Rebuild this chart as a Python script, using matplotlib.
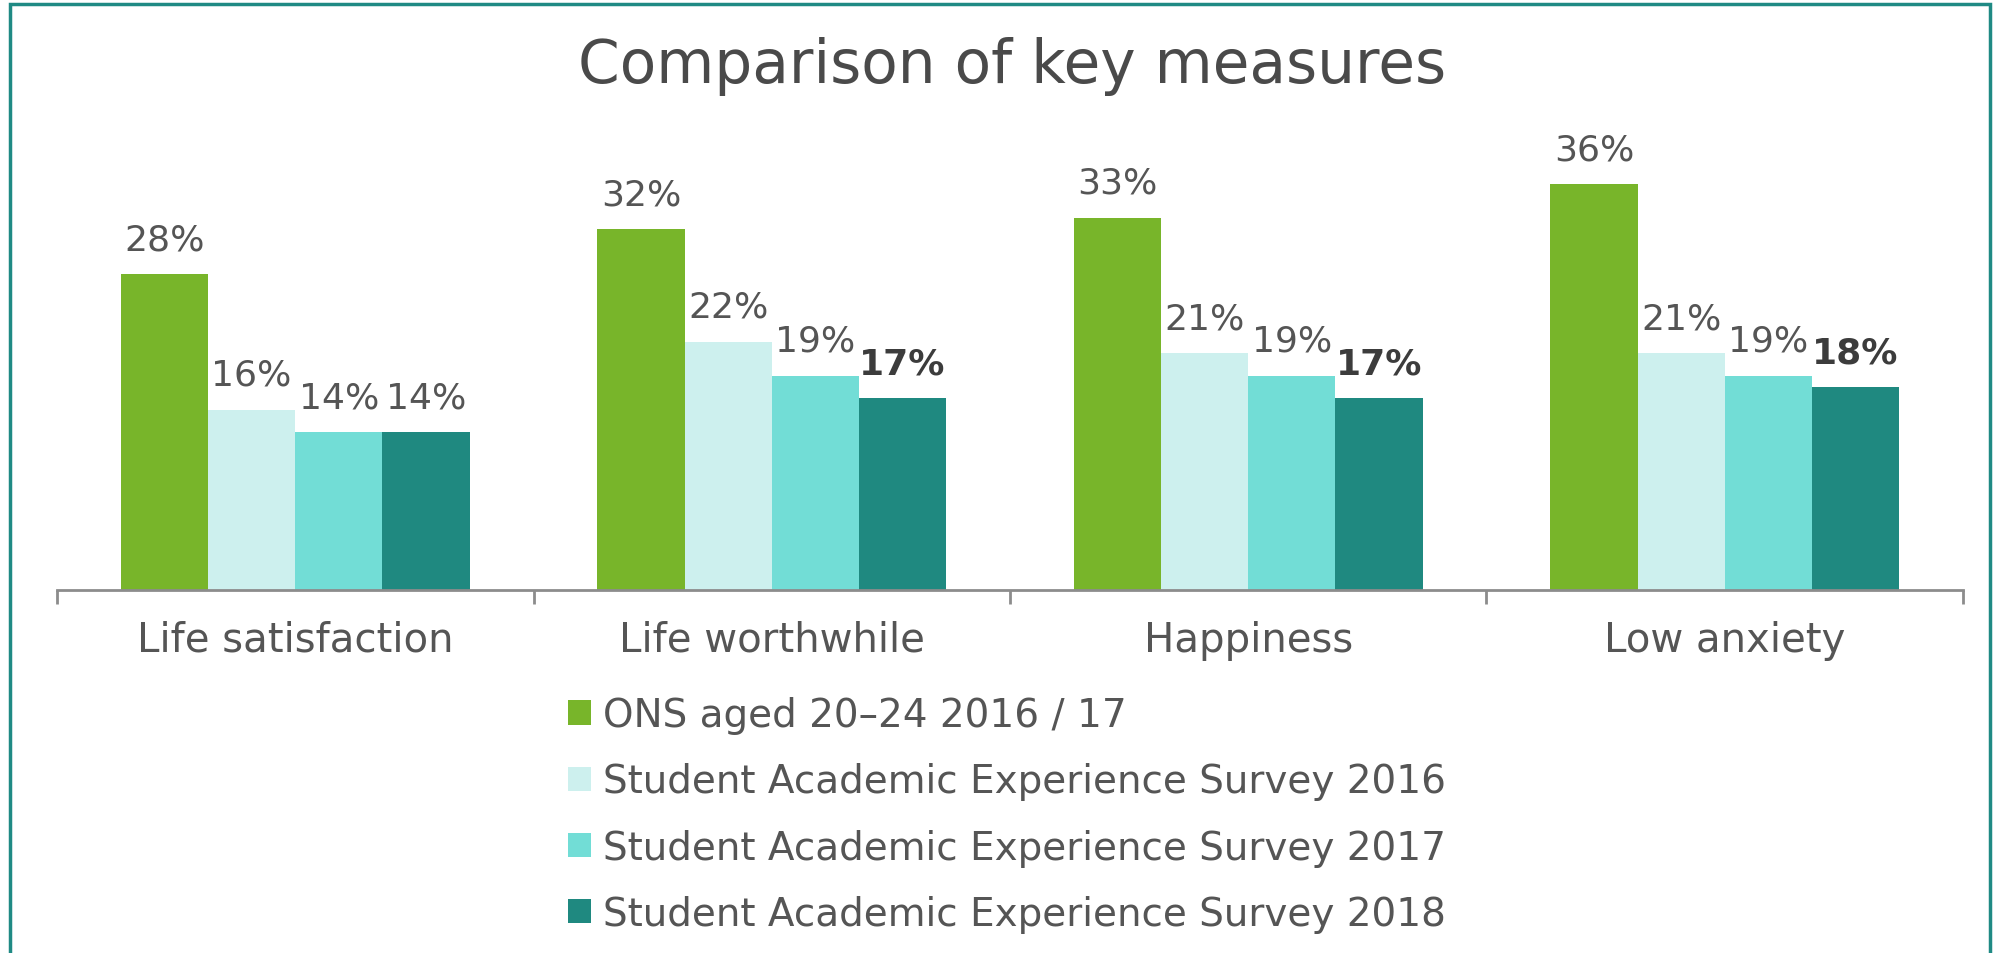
import matplotlib.pyplot as plt
import numpy as np
from matplotlib.patches import Rectangle

# data
categories = ["Life satisfaction", "Life worthwhile", "Happiness", "Low anxiety"]
series_names = ["ONS aged 20\u201324 2016 / 17",
                "Student Academic Experience Survey 2016",
                "Student Academic Experience Survey 2017",
                "Student Academic Experience Survey 2018"]
ons = [28, 32, 33, 36]
saes_2016 = [16, 22, 21, 21]
saes_2017 = [14, 19, 19, 19]
saes_2018 = [14, 17, 17, 18]
bold_2018 = [False, True, True, True]

colors = ["#78b52a", "#cdf0ee", "#72ddd6", "#1f8980"]
text_col = "#555555"

plt.rcParams['font.family'] = ['DejaVu Sans']

fig = plt.figure(figsize=(20, 9.54), dpi=100)
ax = fig.add_axes([0.0285, 0.3805, 0.953, 0.4727])

x = np.arange(len(categories))
w = 0.183
all_series = [ons, saes_2016, saes_2017, saes_2018]
bars = []
for i, vals in enumerate(all_series):
    b = ax.bar(x + (i - 1.5) * w, vals, w, color=colors[i], label=series_names[i])
    bars.append(b)
    for j, rect in enumerate(b):
        bold = (i == 3 and bold_2018[j])
        ax.annotate(f"{vals[j]}%", (rect.get_x() + rect.get_width() / 2, rect.get_height()),
                    xytext=(0, 18), textcoords="offset points", ha="center", va="baseline",
                    fontsize=26, color="#3c3c3c" if bold else text_col,
                    fontweight="bold" if bold else "normal")

ax.set_xlim(-0.5, 3.5)
ax.set_ylim(0, 40)
for s in ["top", "right", "left"]:
    ax.spines[s].set_visible(False)
ax.spines["bottom"].set_color("#8c8c8c")
ax.spines["bottom"].set_linewidth(2)
ax.set_yticks([])
ax.set_xticks(np.arange(-0.5, 4.0, 1.0))
ax.set_xticklabels([])
ax.tick_params(axis="x", length=10, width=2, color="#8c8c8c", direction="out")
for j, c in enumerate(categories):
    ax.text(x[j], -0.135, c, transform=ax.get_xaxis_transform(), ha="center", va="baseline",
            fontsize=29, color=text_col)

fig.text(0.506, 0.913, "Comparison of key measures", ha="center", va="baseline",
         fontsize=43, color="#4a4a4a")

leg = fig.legend(handles=bars, labels=series_names, loc="upper left",
                 bbox_to_anchor=(0.284, 0.269), frameon=False, fontsize=28,
                 handlelength=0.59, handleheight=0.59, handletextpad=0.31,
                 labelspacing=0.723, borderpad=0, borderaxespad=0)
for t in leg.get_texts():
    t.set_color(text_col)

# teal frame
fig.patches.append(Rectangle((0.005, -0.05), 0.99, 1.045, transform=fig.transFigure,
                             fill=False, edgecolor="#1f8a84", linewidth=2.5))

fig.savefig("out.png", dpi=100)
